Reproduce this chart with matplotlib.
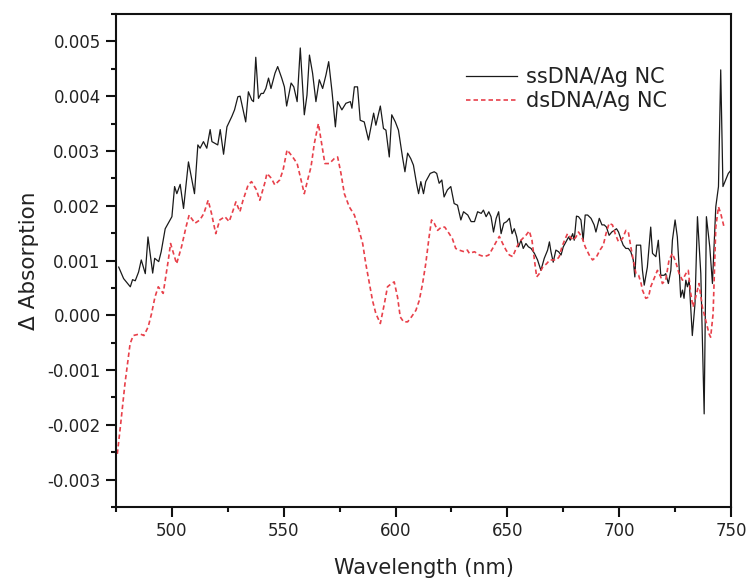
import numpy as np
import matplotlib
matplotlib.use("Agg")
import matplotlib.pyplot as plt
from matplotlib.ticker import MultipleLocator, FormatStrFormatter

# ---------------- data (absorption values in units of 1e-3) ----------------
wl_ss = [476.2, 478.4, 481.4, 482.4, 483.6, 485.1, 486.3, 488.1, 489.3, 491.4,
         492.3, 494.1, 495.2, 497.0, 500.0, 501.2, 502.2, 503.7, 505.2, 507.4,
         510.1, 511.6, 512.6, 514.1, 515.6, 517.1, 517.9, 520.5, 521.6, 523.1,
         524.6, 526.8, 528.0, 529.5, 530.5, 532.0, 533.0, 534.2, 535.7, 536.5,
         537.5, 538.7, 539.9, 540.9, 542.0, 543.2, 544.3, 546.1, 547.3, 549.1,
         550.3, 551.3, 553.3, 554.5, 556.0, 557.4, 559.2, 560.4, 561.5, 562.9,
         564.4, 565.9, 567.4, 568.9, 570.1, 571.6, 573.1, 574.1, 576.0, 577.8,
         579.8, 580.5, 581.6, 583.0, 584.2, 586.0, 587.9, 590.2, 591.2, 593.2,
         594.6, 595.7, 597.2, 598.3, 599.9, 601.3, 603.1, 604.2, 605.4, 606.8,
         608.0, 609.5, 610.3, 611.3, 612.5, 613.5, 615.5, 617.3, 618.4, 619.5,
         620.7, 621.7, 623.2, 624.7, 626.2, 627.7, 629.2, 630.4, 632.3, 633.8,
         635.3, 636.7, 638.3, 639.3, 640.5, 641.7, 642.7, 643.8, 645.0, 646.1,
         647.2, 648.4, 649.7, 650.9, 652.1, 653.1, 654.2, 655.0, 656.1, 657.1,
         658.3, 659.4, 660.6, 662.1, 663.5, 665.0, 666.5, 668.0, 668.8, 669.5,
         670.5, 671.7, 672.9, 674.0, 675.0, 676.2, 677.4, 678.1, 679.2, 679.9,
         680.9, 681.8, 682.9, 683.9, 684.8, 685.9, 687.4, 688.8, 689.6, 691.1,
         692.3, 693.3, 694.3, 695.5, 696.7, 697.8, 698.8, 699.7, 700.7, 701.8,
         703.0, 704.1, 705.2, 706.3, 707.0, 707.7, 709.6, 710.4, 711.2, 712.6,
         714.1, 714.9, 716.4, 717.5, 718.6, 720.1, 720.8, 722.0, 723.1, 723.8,
         725.0, 726.0, 726.8, 727.5, 728.3, 729.0, 729.8, 730.5, 731.3, 732.0,
         732.7, 733.9, 735.0, 736.5, 738.0, 739.0, 740.5, 741.7, 743.2, 744.4,
         745.4, 746.4, 747.6, 748.8, 750.0]
abs_ss = [0.88, 0.67, 0.52, 0.65, 0.63, 0.79, 1.01, 0.76, 1.43, 0.77,
          1.04, 0.98, 1.16, 1.58, 1.80, 2.35, 2.22, 2.39, 1.95, 2.80,
          2.22, 3.11, 3.05, 3.17, 3.05, 3.39, 3.17, 3.11, 3.39, 2.94,
          3.44, 3.63, 3.75, 3.99, 4.00, 3.72, 3.53, 4.08, 3.93, 3.90,
          4.71, 3.96, 4.05, 4.05, 4.14, 4.33, 4.14, 4.42, 4.54, 4.33,
          4.17, 3.82, 4.24, 4.17, 3.90, 4.88, 3.66, 4.02, 4.75, 4.42,
          3.90, 4.30, 4.14, 4.39, 4.63, 4.08, 3.44, 3.90, 3.75, 3.87,
          3.90, 3.78, 4.17, 4.17, 3.56, 3.53, 3.20, 3.69, 3.47, 3.82,
          3.41, 3.38, 2.89, 3.66, 3.53, 3.38, 2.89, 2.62, 2.96, 2.86,
          2.74, 2.38, 2.22, 2.44, 2.22, 2.44, 2.59, 2.62, 2.59, 2.41,
          2.47, 2.16, 2.29, 2.35, 2.04, 2.01, 1.74, 1.89, 1.83, 1.71,
          1.71, 1.89, 1.86, 1.92, 1.80, 1.89, 1.80, 1.52, 1.77, 1.89,
          1.49, 1.68, 1.71, 1.77, 1.49, 1.58, 1.43, 1.25, 1.37, 1.22,
          1.31, 1.25, 1.22, 1.13, 1.01, 0.82, 1.04, 1.19, 1.34, 1.16,
          0.97, 1.19, 1.16, 1.10, 1.25, 1.34, 1.43, 1.37, 1.49, 1.37,
          1.81, 1.80, 1.74, 1.37, 1.83, 1.83, 1.77, 1.65, 1.52, 1.77,
          1.65, 1.65, 1.61, 1.46, 1.52, 1.55, 1.58, 1.52, 1.40, 1.28,
          1.22, 1.22, 1.16, 1.01, 0.70, 1.28, 1.28, 0.82, 0.55, 0.88,
          1.61, 1.13, 1.07, 1.37, 0.73, 0.73, 0.76, 0.58, 0.82, 1.37,
          1.74, 1.43, 0.88, 0.33, 0.46, 0.31, 0.64, 0.52, 0.64, 0.15,
          -0.37, 0.21, 1.80, 0.76, -1.80, 1.80, 1.25, 0.58, 1.98, 2.35,
          4.48, 2.35, 2.47, 2.59, 2.65]

wl_ds = [475.6, 477.1, 479.0, 481.3, 482.7, 485.7, 487.5, 489.4, 490.9, 492.4,
         493.9, 496.1, 498.4, 499.4, 502.1, 504.3, 506.3, 507.7, 510.3, 512.5,
         514.3, 516.2, 517.7, 519.6, 521.4, 523.7, 525.6, 527.4, 528.6, 530.4,
         531.8, 534.1, 535.6, 537.8, 539.3, 541.5, 542.5, 544.5, 546.0, 548.2,
         549.7, 551.5, 554.0, 556.0, 557.4, 559.2, 560.7, 562.2, 563.7, 565.5,
         566.7, 568.4, 570.4, 572.6, 574.1, 575.6, 577.1, 579.3, 581.6, 583.3,
         585.3, 586.7, 588.3, 589.7, 591.2, 593.2, 595.0, 596.4, 598.2, 599.4,
         600.9, 602.1, 603.6, 605.4, 607.1, 609.1, 610.6, 612.1, 613.5, 615.0,
         616.1, 617.3, 618.8, 620.5, 622.0, 624.0, 625.4, 626.9, 628.4, 630.7,
         632.1, 633.0, 635.3, 637.5, 639.7, 641.7, 643.4, 645.0, 646.4, 647.9,
         649.4, 650.9, 652.4, 653.9, 655.4, 656.8, 658.3, 659.8, 661.0, 662.1,
         663.1, 664.3, 665.8, 667.5, 669.0, 670.5, 672.0, 673.2, 674.4, 675.9,
         676.9, 678.1, 679.5, 680.7, 681.8, 683.3, 684.8, 686.6, 688.1, 689.9,
         691.4, 692.9, 694.1, 695.5, 697.0, 698.2, 699.7, 701.5, 703.0, 704.1,
         705.2, 706.3, 707.5, 708.7, 709.8, 710.4, 711.9, 713.1, 714.1, 715.6,
         717.1, 718.6, 719.3, 720.8, 722.3, 723.8, 725.3, 726.8, 728.3, 729.8,
         730.9, 732.0, 733.0, 734.2, 735.7, 737.2, 738.7, 740.2, 740.9, 742.0,
         743.2, 744.4, 745.4, 746.9]
abs_ds = [-2.53, -1.98, -1.25, -0.52, -0.37, -0.34, -0.37, -0.21, 0.03, 0.33,
          0.52, 0.40, 1.01, 1.31, 0.94, 1.25, 1.61, 1.83, 1.68, 1.74,
          1.86, 2.10, 1.86, 1.49, 1.74, 1.80, 1.71, 1.92, 2.07, 1.89,
          2.10, 2.38, 2.44, 2.29, 2.10, 2.41, 2.59, 2.50, 2.38, 2.47,
          2.65, 3.02, 2.89, 2.77, 2.53, 2.22, 2.47, 2.71, 3.14, 3.50,
          3.20, 2.77, 2.77, 2.86, 2.89, 2.59, 2.22, 1.98, 1.83, 1.61,
          1.31, 0.94, 0.58, 0.27, 0.03, -0.15, 0.21, 0.52, 0.58, 0.61,
          0.33, -0.03, -0.12, -0.12, -0.03, 0.09, 0.27, 0.58, 0.94, 1.43,
          1.74, 1.68, 1.55, 1.61, 1.61, 1.49, 1.40, 1.22, 1.19, 1.16,
          1.19, 1.13, 1.16, 1.10, 1.07, 1.10, 1.22, 1.34, 1.44, 1.31,
          1.19, 1.10, 1.07, 1.22, 1.34, 1.40, 1.46, 1.54, 1.37, 1.01,
          0.70, 0.76, 0.88, 0.94, 1.01, 1.01, 1.01, 1.07, 1.25, 1.40,
          1.49, 1.43, 1.37, 1.43, 1.52, 1.43, 1.25, 1.10, 1.01, 1.07,
          1.19, 1.28, 1.49, 1.68, 1.65, 1.49, 1.34, 1.40, 1.55, 1.52,
          1.25, 1.01, 0.76, 0.73, 0.58, 0.46, 0.31, 0.33, 0.52, 0.67,
          0.82, 0.70, 0.58, 0.64, 1.01, 1.13, 0.97, 0.76, 0.64, 0.76,
          0.82, 0.40, 0.15, 0.33, 0.58, 0.15, -0.09, -0.34, -0.40, 0.03,
          1.61, 1.98, 1.86, 1.61]

series_labels = ["ssDNA/Ag NC", "dsDNA/Ag NC"]
x_label = "Wavelength (nm)"
y_label = "\u0394 Absorption"

# ---------------- plot ----------------
plt.rcParams['font.family'] = ['DejaVu Sans']
plt.rcParams['axes.unicode_minus'] = False
text_col = '#222222'

fig = plt.figure(figsize=(7.48, 5.79), dpi=100)
ax = fig.add_axes([116/748, 1-507/579, (731-116)/748, (507-14)/579])

scale = 1e-3
ax.plot(wl_ss, np.array(abs_ss) * scale, color='#1a1a1a', lw=0.9,
        label=series_labels[0])
ax.plot(wl_ds, np.array(abs_ds) * scale, color='#e8404a', lw=1.2,
        linestyle=(0, (2.7, 1.8)), label=series_labels[1])

ax.set_xlim(475, 750)
ax.set_ylim(-0.0035, 0.0055)
ax.xaxis.set_major_locator(MultipleLocator(50))
ax.xaxis.set_minor_locator(MultipleLocator(25))
ax.yaxis.set_major_locator(MultipleLocator(0.001))
ax.yaxis.set_minor_locator(MultipleLocator(0.0005))
ax.yaxis.set_major_formatter(FormatStrFormatter('%.3f'))
ax.set_xticks([500, 550, 600, 650, 700, 750])

for s in ax.spines.values():
    s.set_linewidth(1.5)
    s.set_color('#111111')

ax.tick_params(which='major', direction='out', length=7, width=1.5,
               labelsize=12, colors='#111111', labelcolor=text_col, pad=4)
ax.tick_params(axis='x', which='major', pad=4)
ax.tick_params(which='minor', direction='out', length=3.5, width=1.5,
               colors='#111111')
ax.tick_params(top=False, right=False, which='both')

ax.set_xlabel(x_label, fontsize=15, color=text_col, labelpad=13)
ax.set_ylabel(y_label, fontsize=15.5, color=text_col, labelpad=6)

leg = ax.legend(loc='upper left', bbox_to_anchor=((466-116)/615, (507-67)/493),
                frameon=False, fontsize=15, handlelength=2.45,
                handletextpad=0.45, labelspacing=0.2, borderpad=0,
                borderaxespad=0)
for t in leg.get_texts():
    t.set_color(text_col)

fig.savefig('out.png', dpi=100)
